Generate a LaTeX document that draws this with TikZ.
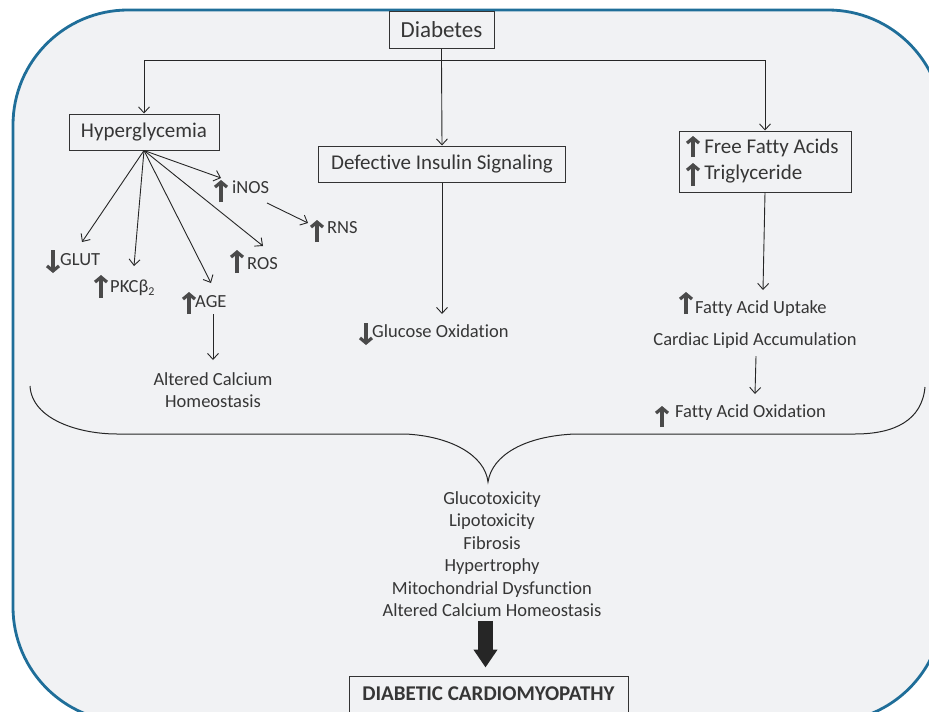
\documentclass[tikz,border=0pt]{standalone}
\usepackage{fontspec}
\setmainfont{Carlito}[RawFeature={-liga}]
\usetikzlibrary{arrows.meta,calc}
\definecolor{bgfill}{HTML}{F1F2F4}
\definecolor{frameblue}{HTML}{1F6E99}
\definecolor{txt}{HTML}{363636}
\definecolor{glyphc}{HTML}{4A4A4A}
\begin{document}
\begin{tikzpicture}[x=1pt,y=-1pt,
  box/.style={draw=black!80, line width=1pt, fill=bgfill, inner sep=0pt, text=txt},
  lbl/.style={text=txt, font=\fontsize{18.5}{22.5}\selectfont, inner sep=0pt},
  conn/.style={draw=black!85, line width=0.9pt, -{Straight Barb[length=6pt,width=11pt]}},
  gup/.style={draw=glyphc, line width=3.2pt, -{Straight Barb[length=5pt,width=12pt]}},
  fat/.style={draw=black!85, line width=15pt, -{Triangle[length=18pt,width=23pt]}}
]
\useasboundingbox (0,0) rectangle (929,712);
% frame
\draw[frameblue, line width=2.8pt, fill=bgfill, rounded corners=115pt] (13,10) rectangle (943,722);

% boxes
\node[box, minimum width=105, minimum height=37, font=\fontsize{23}{26}\selectfont] (diab) at (441.5,29.5) {Diabetes};
\node[box, minimum width=150, minimum height=36, font=\fontsize{21}{24}\selectfont] (hyper) at (144,132) {Hyperglycemia};
\node[box, minimum width=247, minimum height=36, font=\fontsize{21}{24}\selectfont] (defect) at (442,164) {Defective Insulin Signaling};
\node[box, minimum width=172, minimum height=61, align=left, font=\fontsize{21}{26}\selectfont] (ffa) at (765,161.5) {\hspace*{13pt}Free Fatty Acids\\\hspace*{13pt}Triglyceride};
\node[box, minimum width=279, minimum height=36, font=\bfseries\fontsize{21}{24}\selectfont] (dcm) at (488.5,694) {DIABETIC CARDIOMYOPATHY};

% labels
\node[lbl, anchor=base west] (inos) at (232,193) {iNOS};
\node[lbl, anchor=base west] (rns) at (327,233) {RNS};
\node[lbl, anchor=base west] (glut) at (60,265) {GLUT};
\node[lbl, anchor=base west] (pkc) at (110,292) {PKCβ\raisebox{-0.35ex}{\fontsize{12}{12}\selectfont 2}};
\node[lbl, anchor=base west] (ros) at (247,269) {ROS};
\node[lbl, anchor=base west] (age) at (195,307) {AGE};
\node[lbl, align=center] (altca) at (213,390) {Altered Calcium\\Homeostasis};
\node[lbl, anchor=base west] (gluox) at (372,337) {Glucose Oxidation};
\node[lbl, anchor=base west] (upt) at (695,313) {Fatty Acid Uptake};
\node[lbl, anchor=base] (card) at (755,345) {Cardiac Lipid Accumulation};
\node[lbl, anchor=base west] (faox) at (675,417) {Fatty Acid Oxidation};
\node[lbl, align=center] (list) at (492,554) {Glucotoxicity\\Lipotoxicity\\Fibrosis\\Hypertrophy\\Mitochondrial Dysfunction\\Altered Calcium Homeostasis};

% glyph arrows (part of the labels)
\draw[gup] (221,202) -- (221,180);
\draw[gup] (317,242) -- (317,220);
\draw[gup] (53,250) -- (53,273);
\draw[gup] (101,298) -- (101,275);
\draw[gup] (237,273) -- (237,250);
\draw[gup] (189,314) -- (189,292);
\draw[gup] (366,323) -- (366,345);
\draw[gup] (693,157) -- (693,136);
\draw[gup] (693,186) -- (693,163);
\draw[gup] (686,314) -- (686,292);
\draw[gup] (662,427) -- (662,406);

% connector end points
\coordinate (tglut) at (82,242);
\coordinate (tpkc) at (134,266);
\coordinate (tage) at (211,283);
\coordinate (tros) at (263,246);
\coordinate (tinos) at (221,178);
\coordinate (sinos) at (267,203);
\coordinate (trns) at (308,223);
\coordinate (sage) at (213,314);
\coordinate (tca) at (213,360);
\coordinate (tglu) at (442,314);
\coordinate (tupt) at (763,290);
\coordinate (tfaox) at (755,394);
\coordinate (split) at (441.5,60);

% connectors from Diabetes
\draw[draw=black!85, line width=0.9pt] (diab.south) -- (split);
\draw[conn] (split) -| (hyper.north);
\draw[conn] (split) -| (ffa.north);
\draw[conn] (split) -- (defect.north);

% hyperglycemia fan
\draw[conn] (hyper.south) -- (tglut);
\draw[conn] (hyper.south) -- (tpkc);
\draw[conn] (hyper.south) -- (tage);
\draw[conn] (hyper.south) -- (tros);
\draw[conn] (hyper.south) -- (tinos);
\draw[conn] (sinos) -- (trns);
\draw[conn] (sage) -- (tca);

\draw[conn] (defect.south) -- (tglu);
\draw[conn] (ffa.south) -- (tupt);
\draw[conn] ($(card.south)+(1,8)$) -- (tfaox);

% brace
\draw[black!85, line width=1pt] (30,386) .. controls (32,420) and (80,434) .. (117,434) -- (405,434)
  .. controls (450,436) and (485,455) .. (488,482)
  .. controls (492,455) and (525,436) .. (575,434) -- (855,434)
  .. controls (895,434) and (922,420) .. (925,387);

% fat arrow
\draw[fat] ($(list.south)+(-6.5,4)$) -- ($(dcm.north)+(-3,-8)$);
\end{tikzpicture}
\end{document}
